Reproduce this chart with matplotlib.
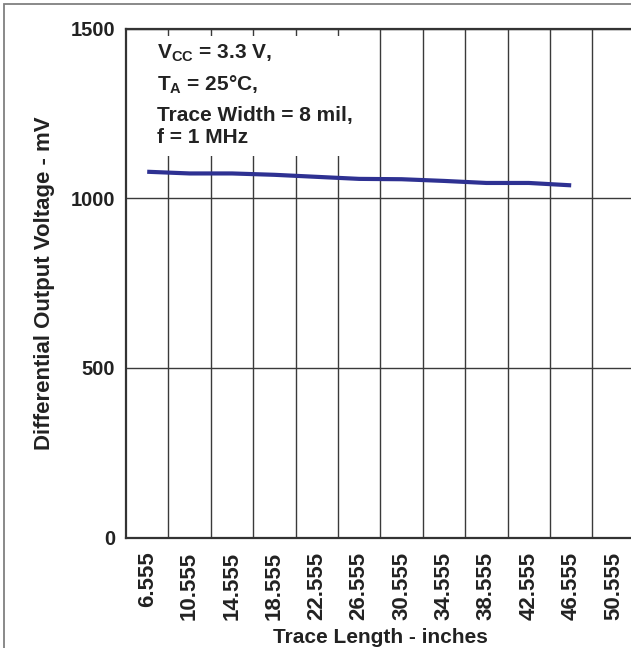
import numpy as np
import matplotlib
matplotlib.use("Agg")
import matplotlib.pyplot as plt
from matplotlib.patches import Rectangle

plt.rcParams['font.family'] = ['Liberation Sans', 'DejaVu Sans']
plt.rcParams['font.weight'] = 'bold'
plt.rcParams['mathtext.fontset'] = 'custom'
plt.rcParams['mathtext.rm'] = 'Liberation Sans:bold'
plt.rcParams['mathtext.bf'] = 'Liberation Sans:bold'

# Trace length categories (inches)
trace_lengths = ["6.555", "10.555", "14.555", "18.555", "22.555", "26.555",
                 "30.555", "34.555", "38.555", "42.555", "46.555", "50.555"]
# Differential output voltage (mV), measured for the first 11 lengths
vod_mv = [1078, 1073, 1073, 1069, 1063, 1057, 1056, 1051, 1045, 1045, 1038]
y_ticks = [0, 500, 1000, 1500]

notes = [r"V$_{\mathbf{CC}}$ = 3.3 V,",
         r"T$_{\mathbf{A}}$ = 25°C,",
         "Trace Width = 8 mil,",
         "f = 1 MHz"]

W, H = 631, 648
fig = plt.figure(figsize=(W / 100, H / 100), dpi=100)

# thin grey frame around the whole picture (cut at right/bottom)
fig.patches.append(Rectangle((3.5 / W, -0.1), 1.2, 1 - 3.5 / H + 0.1,
                             transform=fig.transFigure, fill=False,
                             edgecolor='#808080', lw=1.3))

ax = fig.add_axes([126 / W, 110.3 / H, 12 * 42.4 / W, 509.2 / H])

x = np.arange(len(vod_mv))
ax.plot(x, vod_mv, color='#2e3192', lw=3.0, solid_capstyle='butt', zorder=4)

ax.set_xlim(-0.5, len(trace_lengths) - 0.5)
ax.set_ylim(y_ticks[0], y_ticks[-1])
ax.set_xticks(np.arange(len(trace_lengths)))
ax.set_xticklabels(trace_lengths, rotation=90, fontsize=16, fontweight='bold', color='#222222')
ax.set_xticks(np.arange(len(trace_lengths) - 1) + 0.5, minor=True)
ax.set_yticks(y_ticks)
ax.set_yticklabels([str(v) for v in y_ticks], fontsize=14.5, fontweight='bold', color='#222222')
ax.tick_params(axis='both', which='both', length=0)
ax.tick_params(axis='x', which='major', pad=10)
ax.tick_params(axis='y', which='major', pad=8)

ax.grid(True, axis='x', which='minor', color='#3a3a3a', lw=1.0)
ax.grid(True, axis='y', which='major', color='#3a3a3a', lw=1.0)
ax.set_axisbelow(True)

for s in ax.spines.values():
    s.set_color('#333333')
    s.set_linewidth(1.6)

# white panel behind the condition notes
ax.add_patch(Rectangle((-0.5, 1124), 5.62, 355, facecolor='white',
                       edgecolor='none', zorder=2))

baselines = [58.3, 90.7, 120.7, 143.3]
for txt, b in zip(notes, baselines):
    fig.text(157 / W, 1 - b / H, txt, fontsize=15, fontweight='bold',
             color='#222222', va='baseline', ha='left')

ax.set_xlabel("Trace Length - inches", fontsize=15, fontweight='bold',
              color='#222222', labelpad=6)
ax.set_ylabel("Differential Output Voltage - mV", fontsize=16,
              fontweight='bold', color='#222222', labelpad=11)

fig.savefig("out.png", dpi=100)
